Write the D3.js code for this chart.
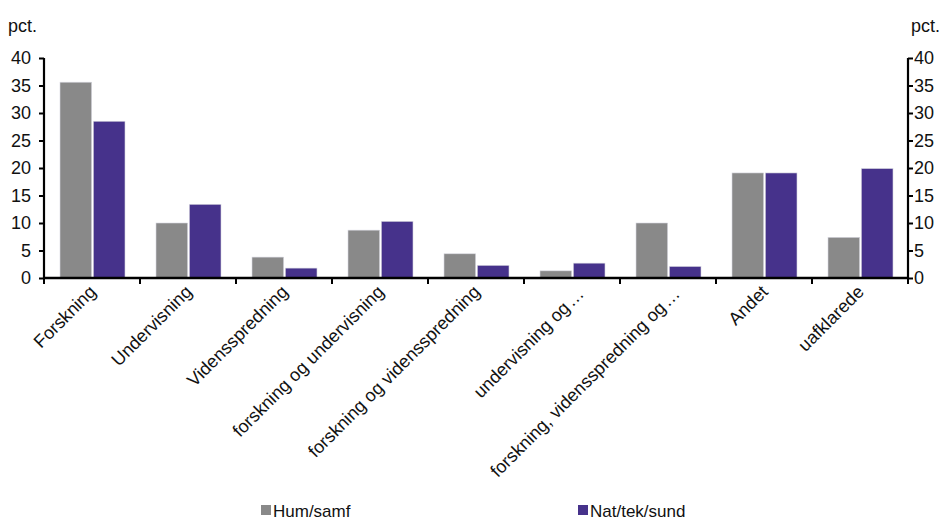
<!DOCTYPE html>
<html>
<head>
<meta charset="utf-8">
<script src="https://cdn.jsdelivr.net/npm/d3@7"></script>
<style>
  html, body { margin: 0; padding: 0; background: #fff; }
  svg { display: block; font-family: "Liberation Sans", Arial, sans-serif; }
</style>
</head>
<body>
<svg id="chart" width="943" height="521"></svg>
<script>
// Category labels along the x axis
const categories = [
  "Forskning",
  "Undervisning",
  "Vidensspredning",
  "forskning og undervisning",
  "forskning og vidensspredning",
  "undervisning og…",
  "forskning, vidensspredning og…",
  "Andet",
  "uafklarede"
];

// Share (pct.) per field
const humSamf = [35.6, 10.0, 3.8, 8.7, 4.4, 1.3, 10.0, 19.1, 7.4];
const natTekSund = [28.5, 13.4, 1.8, 10.3, 2.3, 2.7, 2.1, 19.1, 19.9];

const seriesNames = ["Hum/samf", "Nat/tek/sund"];
const seriesColors = ["#898989", "#46328b"];
const yTicks = [0, 5, 10, 15, 20, 25, 30, 35, 40];
const unitLabel = "pct.";

const svg = d3.select("#chart");
const plotLeft = 44, plotRight = 908, plotTop = 58, plotBottom = 278;
const fontSize = 18;

const x = d3.scaleBand().domain(categories).range([plotLeft, plotRight]).paddingInner(0).paddingOuter(0);
const sub = d3.scaleBand().domain(seriesNames).range([16, x.bandwidth() - 15]).paddingInner(0.05);
const y = d3.scaleLinear().domain([0, 40]).range([plotBottom, plotTop]);

const rows = categories.map((c, i) => ({ cat: c, vals: [humSamf[i], natTekSund[i]] }));

// Bars
const groups = svg.append("g").selectAll("g").data(rows).join("g")
  .attr("transform", d => `translate(${x(d.cat)},0)`);
groups.selectAll("rect")
  .data(d => d.vals.map((v, j) => ({ name: seriesNames[j], v, color: seriesColors[j] })))
  .join("rect")
  .attr("x", d => sub(d.name))
  .attr("width", sub.bandwidth())
  .attr("y", d => y(d.v))
  .attr("height", d => y(0) - y(d.v))
  .attr("fill", d => d.color)
  .attr("stroke", "#d8d8e0")
  .attr("stroke-width", 0.6);

// Left and right value axes
const yAxisL = svg.append("g").attr("transform", `translate(${plotLeft},0)`)
  .call(d3.axisLeft(y).tickValues(yTicks).tickSize(5).tickPadding(8));
const yAxisR = svg.append("g").attr("transform", `translate(${plotRight},0)`)
  .call(d3.axisRight(y).tickValues(yTicks).tickSize(5).tickPadding(1));
[yAxisL, yAxisR].forEach(a => {
  a.select(".domain").attr("stroke", "#000").attr("stroke-width", 2.2)
    .attr("d", `M0,${plotTop}V${plotBottom}`);
  a.selectAll(".tick line").attr("stroke", "#000").attr("stroke-width", 2);
  a.selectAll(".tick text").attr("font-size", fontSize).attr("fill", "#111")
    .attr("font-family", "Liberation Sans, Arial, sans-serif");
});

// Bottom axis with ticks at category boundaries
const boundaries = categories.map(c => x(c)).concat([plotRight]);
const xAxis = svg.append("g");
xAxis.append("line")
  .attr("x1", plotLeft).attr("x2", plotRight).attr("y1", plotBottom).attr("y2", plotBottom)
  .attr("stroke", "#000").attr("stroke-width", 2.6);
xAxis.selectAll("line.tk").data(boundaries).join("line").attr("class", "tk")
  .attr("x1", d => d).attr("x2", d => d)
  .attr("y1", plotBottom).attr("y2", plotBottom + 6)
  .attr("stroke", "#000").attr("stroke-width", 2);

// Rotated category labels; truncated labels carry a wider, spaced ellipsis
const labels = svg.append("g").selectAll("text").data(categories).join("text")
  .attr("transform", d => {
    const cut = d.endsWith("…");
    const cx = x(d) + x.bandwidth() / 2 + 5 + (cut ? 8 : 0);
    const cy = plotBottom + 15 + (cut ? 2 : 0);
    return `translate(${cx},${cy}) rotate(-45)`;
  })
  .attr("text-anchor", "end")
  .attr("font-size", fontSize)
  .attr("fill", "#111");
labels.each(function (d) {
  const t = d3.select(this);
  if (d.endsWith("…")) {
    t.append("tspan").text(d.slice(0, -1));
    t.append("tspan").attr("dx", 2).attr("letter-spacing", 0).text("…");
  } else {
    t.text(d);
  }
});

// Unit labels
svg.append("text").attr("x", 8).attr("y", 32).attr("font-size", fontSize).attr("fill", "#111").text(unitLabel);
svg.append("text").attr("x", 911).attr("y", 32).attr("font-size", fontSize).attr("fill", "#111").text(unitLabel);

// Legend
const legendX = [261, 578];
const legend = svg.append("g").selectAll("g").data(seriesNames).join("g")
  .attr("transform", (d, i) => `translate(${legendX[i]},505)`);
legend.append("rect").attr("width", 10).attr("height", 10)
  .attr("fill", (d, i) => seriesColors[i]);
legend.append("text").attr("x", 12).attr("y", 12).attr("font-size", 17).attr("fill", "#111")
  .text(d => d);
</script>
</body>
</html>
